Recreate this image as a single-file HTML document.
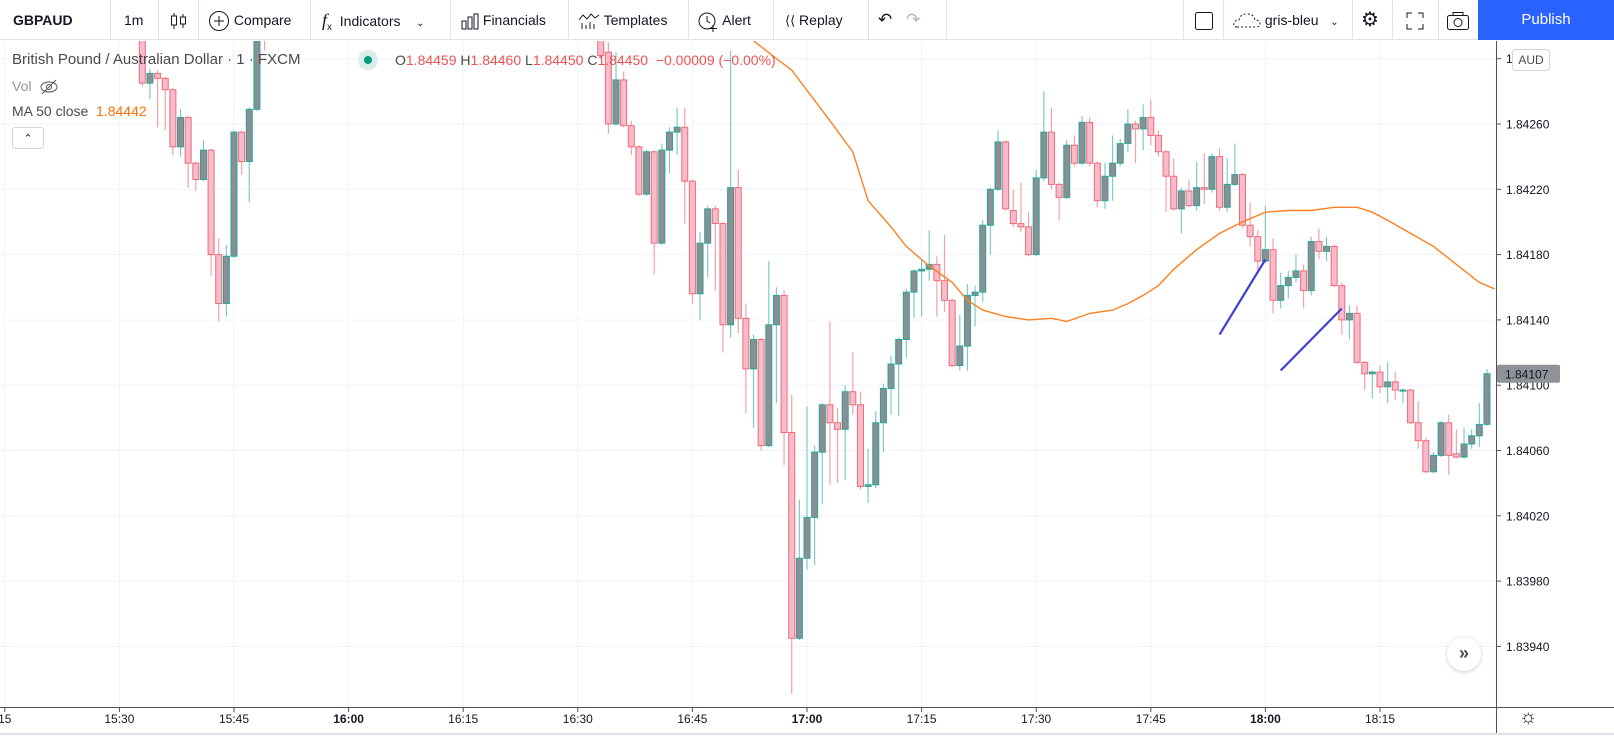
<!DOCTYPE html>
<html><head><meta charset="utf-8">
<style>
*{box-sizing:border-box;margin:0;padding:0}
body{width:1614px;height:756px;overflow:hidden;background:#fff;font-family:"Liberation Sans",sans-serif;color:#131722;position:relative}
#toolbar{position:absolute;left:0;top:0;width:1614px;height:40px;border-bottom:1px solid #e0e3eb;background:#fff}
.tb{position:absolute;top:0;height:40px;line-height:40px;font-size:14px;color:#131722;white-space:nowrap}
.sep{position:absolute;top:0;width:1px;height:40px;background:#e0e3eb}
#publish{position:absolute;left:1478px;top:0;width:136px;height:40px;background:#2962ff;color:#fff;font-size:15px;line-height:40px;text-align:center}
#chart{position:absolute;left:0;top:0}
.legend{position:absolute;font-size:14px;white-space:nowrap}
</style></head>
<body>
<div id="toolbar">
  <div class="tb" style="left:13px;font-weight:bold">GBPAUD</div>
  <div class="sep" style="left:110px"></div>
  <div class="tb" style="left:124px">1m</div>
  <div class="sep" style="left:158px"></div>
  <div class="tb" style="left:170px"><svg width="18" height="20" style="vertical-align:middle"><line x1="4" y1="2" x2="4" y2="18" stroke="#131722"/><rect x="1.5" y="5" width="5" height="9" fill="#fff" stroke="#131722"/><line x1="13" y1="3" x2="13" y2="17" stroke="#131722"/><rect x="10.5" y="6" width="5" height="7" fill="#fff" stroke="#131722"/></svg></div>
  <div class="sep" style="left:198px"></div>
  <div class="tb" style="left:208px"><svg width="22" height="22" style="vertical-align:middle"><circle cx="11" cy="11" r="9.5" fill="none" stroke="#131722"/><line x1="11" y1="6" x2="11" y2="16" stroke="#131722"/><line x1="6" y1="11" x2="16" y2="11" stroke="#131722"/></svg> Compare</div>
  <div class="sep" style="left:310px"></div>
  <div class="tb" style="left:322px"><i style="font-family:'Liberation Serif',serif;font-size:18px">f</i><sub style="font-size:10px">x</sub>&nbsp; Indicators &nbsp;&nbsp;&nbsp;<span style="font-size:10px">&#8964;</span></div>
  <div class="sep" style="left:450px"></div>
  <div class="tb" style="left:461px"><svg width="18" height="18" style="vertical-align:middle"><rect x="1" y="9" width="4" height="8" fill="none" stroke="#131722"/><rect x="7" y="5" width="4" height="12" fill="none" stroke="#131722"/><rect x="13" y="2" width="4" height="15" fill="none" stroke="#131722"/></svg> Financials</div>
  <div class="sep" style="left:568px"></div>
  <div class="tb" style="left:578px"><svg width="22" height="18" style="vertical-align:middle"><polyline points="1,8 5,3 9,7 13,2 17,6 21,3" fill="none" stroke="#131722"/><line x1="4" y1="11" x2="4" y2="17" stroke="#131722"/><line x1="8" y1="13" x2="8" y2="17" stroke="#131722"/><line x1="12" y1="10" x2="12" y2="17" stroke="#131722"/><line x1="16" y1="12" x2="16" y2="17" stroke="#131722"/></svg> Templates</div>
  <div class="sep" style="left:688px"></div>
  <div class="tb" style="left:697px"><svg width="22" height="22" style="vertical-align:middle"><circle cx="10" cy="11" r="8" fill="none" stroke="#131722"/><polyline points="10,6 10,11 13,13" fill="none" stroke="#131722"/><line x1="16" y1="15" x2="16" y2="22" stroke="#131722"/><line x1="13" y1="18.5" x2="20" y2="18.5" stroke="#131722"/></svg> Alert</div>
  <div class="sep" style="left:773px"></div>
  <div class="tb" style="left:785px"><span style="font-size:13px">&#10216;&#10216;</span> Replay</div>
  <div class="sep" style="left:868px"></div>
  <div class="tb" style="left:878px;font-size:17px">&#8630;</div>
  <div class="tb" style="left:906px;font-size:17px;color:#b2b5be">&#8631;</div>
  <div class="sep" style="left:946px"></div>
  <div class="sep" style="left:1183px"></div>
  <div class="tb" style="left:1194px"><svg width="20" height="20" style="vertical-align:middle"><rect x="1.5" y="1.5" width="17" height="17" rx="2" fill="none" stroke="#131722"/></svg></div>
  <div class="sep" style="left:1223px"></div>
  <div class="tb" style="left:1233px"><svg width="28" height="18" style="vertical-align:middle"><path d="M4 15 Q0 15 1 11 Q2 8 6 8 Q7 2 14 2 Q21 2 22 8 Q27 8 27 12 Q27 15 23 15 Z" fill="none" stroke="#131722" stroke-dasharray="2,2"/></svg> gris-bleu &nbsp;&nbsp;<span style="font-size:10px">&#8964;</span></div>
  <div class="sep" style="left:1352px"></div>
  <div class="tb" style="left:1361px;font-size:20px">&#9881;</div>
  <div class="sep" style="left:1392px"></div>
  <div class="tb" style="left:1405px;font-size:13px;letter-spacing:-1px"><svg width="20" height="20" style="vertical-align:middle"><path d="M2 7V2h5M13 2h5v5M18 13v5h-5M7 18H2v-5" fill="none" stroke="#131722"/></svg></div>
  <div class="sep" style="left:1438px"></div>
  <div class="tb" style="left:1446px"><svg width="24" height="20" style="vertical-align:middle"><rect x="1.5" y="4.5" width="21" height="14" rx="2" fill="none" stroke="#131722"/><rect x="7" y="1.5" width="10" height="3" fill="none" stroke="#131722"/><circle cx="12" cy="11.5" r="4" fill="none" stroke="#131722"/></svg></div>
  <div id="publish">Publish</div>
</div>

<svg id="chart" width="1614" height="756" style="top:0">
  <defs><clipPath id="plotclip"><rect x="0" y="41" width="1496" height="666"/></clipPath></defs>
  <g id="grid"></g>
  <g id="candles" clip-path="url(#plotclip)"></g>
  <g id="ma" clip-path="url(#plotclip)"></g>
  <g id="drawings" clip-path="url(#plotclip)"></g>
  <g id="axes"></g>
</svg>

<div class="legend" style="left:12px;top:51px;font-size:15px;color:#4a4a4a">British Pound / Australian Dollar · 1 · FXCM</div>
<div style="position:absolute;left:358px;top:50px;width:20px;height:20px;border-radius:10px;background:#d6efec"><div style="position:absolute;left:6px;top:6px;width:8px;height:8px;border-radius:4px;background:#089981"></div></div>
<div class="legend" style="left:395px;top:52px;font-size:14px;color:#ef5350"><span style="color:#4a4a4a">O</span>1.84459 <span style="color:#4a4a4a">H</span>1.84460 <span style="color:#4a4a4a">L</span>1.84450 <span style="color:#4a4a4a">C</span>1.84450 &nbsp;−0.00009 (−0.00%)</div>
<div class="legend" style="left:12px;top:78px;color:#9598a1">Vol &nbsp;<svg width="20" height="16" style="vertical-align:middle"><ellipse cx="10" cy="8" rx="8" ry="5" fill="none" stroke="#555"/><circle cx="10" cy="8" r="2.5" fill="none" stroke="#555"/><line x1="3" y1="15" x2="17" y2="1" stroke="#555"/></svg></div>
<div class="legend" style="left:12px;top:103px;color:#4a4a4a">MA 50 close &nbsp;<span style="color:#ff6d00">1.84442</span></div>
<div style="position:absolute;left:12px;top:127px;width:32px;height:22px;border:1px solid #d1d4dc;border-radius:3px;background:#fff;text-align:center;font-size:11px;line-height:22px">&#8963;</div>
<div style="position:absolute;left:1512px;top:49px;width:38px;height:22px;border:1px solid #d1d4dc;border-radius:4px;background:#fff;font-size:12px;line-height:20px;text-align:center;color:#4a4a4a">AUD</div>
<div style="position:absolute;left:1447px;top:637px;width:34px;height:34px;border-radius:17px;background:#fff;box-shadow:0 1px 4px rgba(0,0,0,.2);text-align:center;line-height:32px;font-size:18px;font-weight:bold;color:#4a4a4a">»</div>
<div style="position:absolute;left:1519px;top:706px;font-size:20px;color:#131722">&#9788;</div>

<script>
const times = ["15:33","15:34","15:35","15:36","15:37","15:38","15:39","15:40","15:41","15:42","15:43","15:44","15:45","15:46","15:47","15:48","15:49",
"16:33","16:34","16:35","16:36","16:37","16:38","16:39","16:40","16:41","16:42","16:43","16:44","16:45","16:46","16:47","16:48","16:49","16:50","16:51","16:52","16:53","16:54","16:55","16:56","16:57","16:58","16:59",
"17:00","17:01","17:02","17:03","17:04","17:05","17:06","17:07","17:08","17:09","17:10","17:11","17:12","17:13","17:14","17:15","17:16","17:17","17:18","17:19","17:20","17:21","17:22","17:23","17:24","17:25","17:26","17:27","17:28","17:29",
"17:30","17:31","17:32","17:33","17:34","17:35","17:36","17:37","17:38","17:39","17:40","17:41","17:42","17:43","17:44","17:45","17:46","17:47","17:48","17:49","17:50","17:51","17:52","17:53","17:54","17:55","17:56","17:57","17:58","17:59",
"18:00","18:01","18:02","18:03","18:04","18:05","18:06","18:07","18:08","18:09","18:10","18:11","18:12","18:13","18:14","18:15","18:16","18:17","18:18","18:19","18:20","18:21","18:22","18:23","18:24","18:25","18:26","18:27","18:28","18:29"];
const opens = [1.84330,1.84285,1.84291,1.84288,1.84281,1.84246,1.84264,1.84236,1.84226,1.84244,1.84180,1.84150,1.84179,1.84255,1.84237,1.84269,1.84330,
1.84330,1.84304,1.84260,1.84287,1.84259,1.84246,1.84217,1.84243,1.84187,1.84244,1.84255,1.84258,1.84225,1.84156,1.84187,1.84208,1.84199,1.84137,1.84221,1.84141,1.84110,1.84128,1.84063,1.84137,1.84155,1.84071,1.83945,
1.83994,1.84019,1.84059,1.84088,1.84077,1.84073,1.84096,1.84088,1.84038,1.84039,1.84077,1.84098,1.84113,1.84128,1.84157,1.84170,1.84171,1.84174,1.84164,1.84152,1.84112,1.84124,1.84155,1.84157,1.84198,1.84220,1.84249,1.84207,1.84199,1.84197,
1.84180,1.84227,1.84255,1.84223,1.84215,1.84247,1.84236,1.84261,1.84236,1.84213,1.84228,1.84236,1.84248,1.84260,1.84257,1.84264,1.84253,1.84243,1.84228,1.84208,1.84219,1.84210,1.84221,1.84220,1.84240,1.84209,1.84223,1.84229,1.84198,1.84191,
1.84176,1.84183,1.84152,1.84161,1.84166,1.84170,1.84158,1.84188,1.84182,1.84185,1.84161,1.84140,1.84144,1.84114,1.84107,1.84108,1.84099,1.84102,1.84097,1.84097,1.84077,1.84066,1.84047,1.84057,1.84077,1.84058,1.84056,1.84064,1.84069,1.84076];
const highs = [1.84340,1.84294,1.84293,1.84289,1.84282,1.84269,1.84265,1.84237,1.84250,1.84245,1.84190,1.84186,1.84256,1.84256,1.84270,1.84345,1.84340,
1.84340,1.84310,1.84304,1.84292,1.84262,1.84247,1.84244,1.84244,1.84248,1.84258,1.84270,1.84270,1.84226,1.84194,1.84210,1.84210,1.84200,1.84305,1.84232,1.84150,1.84131,1.84129,1.84176,1.84160,1.84158,1.84094,1.84030,
1.84087,1.84063,1.84089,1.84139,1.84086,1.84100,1.84120,1.84096,1.84061,1.84084,1.84101,1.84118,1.84129,1.84159,1.84171,1.84177,1.84195,1.84179,1.84192,1.84153,1.84143,1.84162,1.84161,1.84201,1.84221,1.84256,1.84250,1.84220,1.84224,1.84206,
1.84232,1.84280,1.84270,1.84224,1.84250,1.84253,1.84265,1.84264,1.84237,1.84236,1.84253,1.84251,1.84269,1.84262,1.84272,1.84275,1.84256,1.84244,1.84239,1.84221,1.84226,1.84237,1.84242,1.84242,1.84245,1.84239,1.84248,1.84230,1.84212,1.84195,
1.84210,1.84190,1.84169,1.84170,1.84180,1.84174,1.84191,1.84196,1.84191,1.84186,1.84163,1.84149,1.84149,1.84115,1.84109,1.84112,1.84114,1.84108,1.84098,1.84098,1.84090,1.84068,1.84059,1.84078,1.84082,1.84073,1.84074,1.84073,1.84089,1.84110];
const lows = [1.84283,1.84275,1.84258,1.84256,1.84241,1.84240,1.84221,1.84219,1.84225,1.84167,1.84139,1.84142,1.84178,1.84229,1.84212,1.84268,1.84305,
1.84300,1.84254,1.84259,1.84258,1.84241,1.84216,1.84216,1.84168,1.84186,1.84230,1.84241,1.84199,1.84150,1.84140,1.84166,1.84158,1.84120,1.84129,1.84132,1.84083,1.84074,1.84060,1.84062,1.84089,1.84051,1.83911,1.83944,
1.83987,1.83990,1.84027,1.84039,1.84040,1.84042,1.84082,1.84036,1.84028,1.84037,1.84059,1.84082,1.84081,1.84117,1.84141,1.84142,1.84164,1.84142,1.84145,1.84111,1.84109,1.84109,1.84136,1.84151,1.84180,1.84219,1.84207,1.84197,1.84194,1.84179,
1.84179,1.84225,1.84220,1.84201,1.84214,1.84234,1.84235,1.84234,1.84209,1.84208,1.84213,1.84234,1.84243,1.84236,1.84244,1.84247,1.84240,1.84206,1.84207,1.84193,1.84209,1.84207,1.84211,1.84218,1.84207,1.84206,1.84222,1.84196,1.84185,1.84169,
1.84175,1.84144,1.84147,1.84153,1.84163,1.84147,1.84155,1.84177,1.84176,1.84160,1.84131,1.84128,1.84113,1.84097,1.84092,1.84095,1.84089,1.84091,1.84089,1.84076,1.84061,1.84046,1.84046,1.84056,1.84045,1.84055,1.84055,1.84061,1.84062,1.84075];
const closes = [1.84285,1.84291,1.84288,1.84281,1.84246,1.84264,1.84236,1.84226,1.84244,1.84180,1.84150,1.84179,1.84255,1.84237,1.84269,1.84330,1.84320,
1.84302,1.84260,1.84287,1.84259,1.84246,1.84217,1.84243,1.84187,1.84244,1.84255,1.84258,1.84225,1.84156,1.84187,1.84208,1.84199,1.84137,1.84221,1.84141,1.84110,1.84128,1.84063,1.84137,1.84155,1.84071,1.83945,1.83994,
1.84019,1.84059,1.84088,1.84077,1.84073,1.84096,1.84088,1.84038,1.84039,1.84077,1.84098,1.84113,1.84128,1.84157,1.84170,1.84171,1.84174,1.84164,1.84152,1.84112,1.84124,1.84155,1.84157,1.84198,1.84220,1.84249,1.84208,1.84199,1.84197,1.84180,
1.84227,1.84255,1.84223,1.84215,1.84247,1.84236,1.84261,1.84236,1.84213,1.84228,1.84236,1.84248,1.84260,1.84257,1.84264,1.84253,1.84243,1.84228,1.84208,1.84219,1.84210,1.84221,1.84220,1.84240,1.84209,1.84223,1.84229,1.84198,1.84191,1.84176,
1.84183,1.84152,1.84161,1.84166,1.84170,1.84158,1.84188,1.84182,1.84185,1.84161,1.84140,1.84144,1.84114,1.84107,1.84108,1.84099,1.84102,1.84097,1.84097,1.84077,1.84066,1.84047,1.84057,1.84077,1.84057,1.84056,1.84064,1.84069,1.84076,1.84107];

const maTimes = ["16:53","16:56","16:58","17:03","17:06","17:08","17:11","17:13","17:16","17:19","17:21","17:23","17:26","17:29","17:32","17:34","17:37","17:40","17:42","17:44","17:46","17:48","17:51","17:54","17:57","18:00","18:03","18:06","18:09","18:12","18:14","18:16","18:19","18:22","18:25","18:28","18:30"];
const maValues = [1.84311,1.84300,1.84293,1.84262,1.84243,1.84213,1.84197,1.84185,1.84173,1.84163,1.84152,1.84146,1.84142,1.84140,1.84141,1.84139,1.84144,1.84146,1.84150,1.84155,1.84161,1.84171,1.84183,1.84193,1.84200,1.84206,1.84207,1.84207,1.84209,1.84209,1.84206,1.84201,1.84193,1.84185,1.84174,1.84163,1.84159];

const priceTicks = [1.84300,1.84260,1.84220,1.84180,1.84140,1.84100,1.84060,1.84020,1.83980,1.83940];
const timeTicks = ["15:15","15:30","15:45","16:00","16:15","16:30","16:45","17:00","17:15","17:30","17:45","18:00","18:15"];
const timeTickLabels = ["15","15:30","15:45","16:00","16:15","16:30","16:45","17:00","17:15","17:30","17:45","18:00","18:15"];
const drawingTimes = [["17:54","18:00"],["18:02","18:10"]];
const drawingPrices = [[1.84131,1.84177],[1.84109,1.84147]];
const lastPrice = 1.84107;

const NS = "http://www.w3.org/2000/svg";
function mins(t){const p=t.split(":");return (+p[0])*60+(+p[1]);}
const X0 = mins("17:00");
function xScale(t){return 807 + (mins(t)-X0)*7.64;}
function yScale(p){return 124 + (1.84260 - p)*163250;}
function mk(tag, attrs, parent){const e=document.createElementNS(NS,tag);for(const k in attrs)e.setAttribute(k,attrs[k]);parent.appendChild(e);return e;}

const grid = document.getElementById("grid");
priceTicks.forEach(p=>{
  const l = mk("line",{x1:0,x2:1496,y1:yScale(p),y2:yScale(p),stroke:"#f0f3fa","stroke-width":1},grid);
  
  
});
timeTicks.forEach(t=>{
  const l = mk("line",{x1:xScale(t),x2:xScale(t),y1:41,y2:707,stroke:"#f0f3fa","stroke-width":1},grid);
  
  
});

const cg = document.getElementById("candles");
for(let i=0;i<times.length;i++){
  const x = xScale(times[i]);
  const up = closes[i] >= opens[i];
  const g = mk("g",{},cg);
  
  
  mk("line",{x1:x,x2:x,y1:yScale(highs[i]),y2:yScale(lows[i]),stroke: up?"#80cbc4":"#f0a1a9","stroke-width":1.2},g);
  const top = yScale(Math.max(opens[i],closes[i]));
  const bot = yScale(Math.min(opens[i],closes[i]));
  mk("rect",{x:x-3,y:top,width:6,height:Math.max(1,bot-top),fill: up?"#8b8e92":"#f8bbcc",stroke: up?"#26a69a":"#ef6b76","stroke-width":1},g);
}

const mag = document.getElementById("ma");
const pts = maTimes.map((t,i)=>xScale(t).toFixed(1)+","+yScale(maValues[i]).toFixed(1)).join(" ");
const ma = mk("polyline",{points:pts,fill:"none",stroke:"#ff7f1f","stroke-width":1.4},mag);



const dg = document.getElementById("drawings");
drawingTimes.forEach((tt,i)=>{
  const l = mk("line",{x1:xScale(tt[0]),y1:yScale(drawingPrices[i][0]),x2:xScale(tt[1]),y2:yScale(drawingPrices[i][1]),stroke:"#3f3fd6","stroke-width":2.2},dg);
  
  
});

const ax = document.getElementById("axes");
mk("rect",{x:1496,y:41,width:118,height:715,fill:"#fff"},ax);
mk("rect",{x:0,y:707,width:1496,height:49,fill:"#fff"},ax);
mk("line",{x1:1496.5,x2:1496.5,y1:41,y2:734,stroke:"#50535e","stroke-width":1},ax);
mk("line",{x1:0,x2:1614,y1:707.5,y2:707.5,stroke:"#50535e","stroke-width":1},ax);
mk("line",{x1:0,x2:1614,y1:734,y2:734,stroke:"#e0e3eb","stroke-width":2},ax);
priceTicks.forEach(p=>{
  const y = yScale(p);
  mk("line",{x1:1496,x2:1501,y1:y,y2:y,stroke:"#50535e"},ax);
  const t = mk("text",{x:1506,y:y+4.5,"font-size":12,fill:"#131722","font-family":"Liberation Sans, sans-serif"},ax);
  t.textContent = p.toFixed(5);
  
  
});
timeTicks.forEach((tk,i)=>{
  const x = xScale(tk);
  mk("line",{x1:x,x2:x,y1:707,y2:712,stroke:"#50535e"},ax);
  const lbl = timeTickLabels[i];
  const t = mk("text",{x:x,y:723,"font-size":12,fill:"#131722","text-anchor":"middle","font-weight":(lbl.endsWith(":00")?"bold":"normal"),"font-family":"Liberation Sans, sans-serif"},ax);
  t.textContent = lbl;
  
  
});
const ly = yScale(lastPrice);
const lb = mk("rect",{x:1497,y:ly-9,width:63,height:18,rx:2,fill:"#8f9296"},ax);


const lt = mk("text",{x:1505,y:ly+4.5,"font-size":12,fill:"#131722","font-family":"Liberation Sans, sans-serif"},ax);
lt.textContent = lastPrice.toFixed(5);


</script>
</body></html>
